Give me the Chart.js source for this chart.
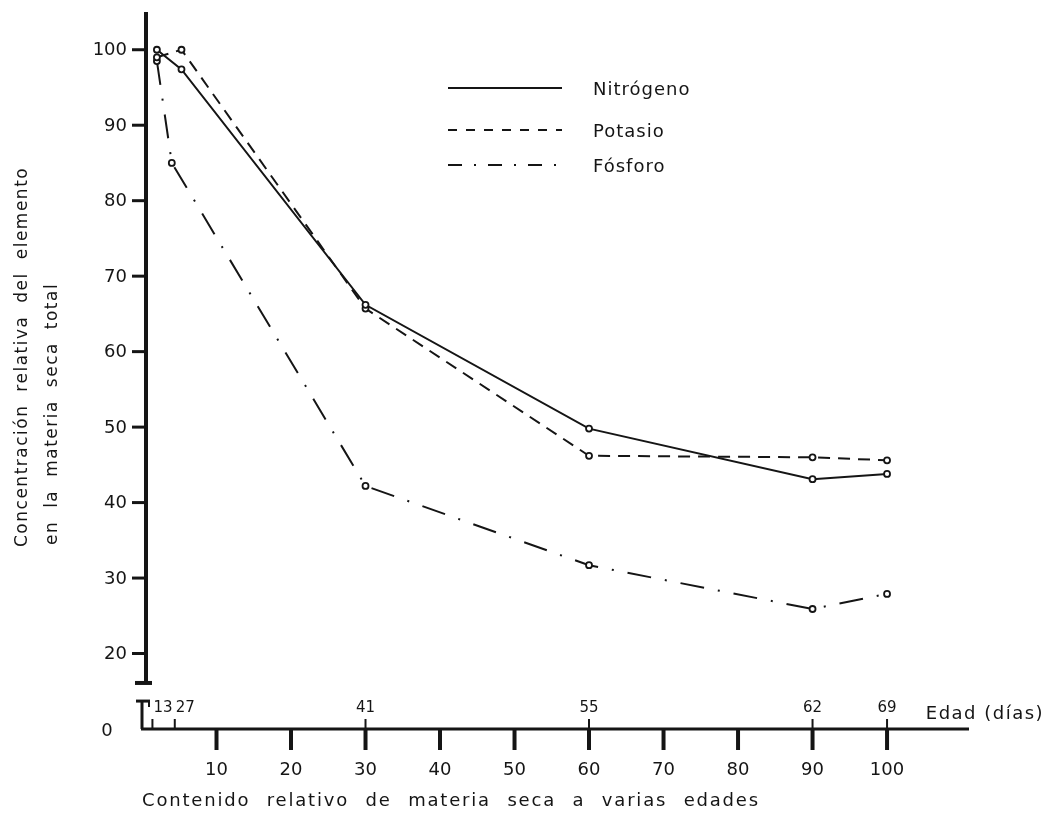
<!DOCTYPE html>
<html>
<head>
<meta charset="utf-8">
<script src="https://cdn.jsdelivr.net/npm/chart.js@4/dist/chart.umd.min.js"></script>
<style>
  html, body { margin: 0; padding: 0; background: #fff; }
  #wrap { width: 1053px; height: 824px; }
</style>
</head>
<body>
<div id="wrap"><canvas id="c" width="1053" height="824"></canvas></div>
<script>
// Relative dry-matter content (x) and relative element concentration (y)
const xNitrogeno = [2.0, 5.3, 30, 60, 90, 100];
const nitrogeno  = [100, 97.4, 66.2, 49.8, 43.1, 43.8];
const xPotasio   = [2.0, 5.3, 30, 60, 90, 100];
const potasio    = [99, 100, 65.7, 46.2, 46.0, 45.6];
const xFosforo   = [2.0, 4.0, 30, 60, 90, 100];
const fosforo    = [98.5, 85, 42.2, 31.7, 25.9, 27.9];

// Axis ticks
const xTicks = [10, 20, 30, 40, 50, 60, 70, 80, 90, 100];
const yTicks = [20, 30, 40, 50, 60, 70, 80, 90, 100];
// Plant age (days) marked along the dry-matter axis
const edadPos    = [1.4, 4.4, 30, 60, 90, 100];
const edadLabels = ['13', '27', '41', '55', '62', '69'];

const seriesNames = ['Nitrógeno', 'Potasio', 'Fósforo'];
const INK = '#151515';
const FONT = '"DejaVu Sans", sans-serif';
const dashes = [[], [12, 8], [24, 14, 2, 14]];

function pts(xs, ys) { return xs.map((v, i) => ({ x: v, y: ys[i] })); }

function ds(label, data, dash) {
  return {
    label, data, showLine: true,
    borderColor: INK, borderWidth: 2, borderDash: dash,
    pointRadius: 3, pointBorderWidth: 1.8,
    pointBackgroundColor: '#fff', pointBorderColor: INK,
    tension: 0, clip: false
  };
}

const axesPlugin = {
  id: 'handAxes',
  afterDraw(chart) {
    const { ctx, scales: { x, y } } = chart;
    const line = (a, b, c, d) => { ctx.beginPath(); ctx.moveTo(a, b); ctx.lineTo(c, d); ctx.stroke(); };
    ctx.save();
    ctx.strokeStyle = INK; ctx.fillStyle = INK; ctx.lineCap = 'butt';
    ctx.setLineDash([]);

    const x0 = x.getPixelForValue(0);
    const base = y.getPixelForValue(10);
    const yAxisX = x0 + 4;

    // upper (broken) concentration axis
    const breakY = y.getPixelForValue(16.1);
    ctx.lineWidth = 4;
    line(yAxisX, y.getPixelForValue(105), yAxisX, breakY);
    line(yAxisX - 11, breakY, yAxisX + 6, breakY);

    // y ticks and labels
    ctx.lineWidth = 3;
    ctx.font = '18px ' + FONT;
    ctx.textAlign = 'right'; ctx.textBaseline = 'middle';
    yTicks.forEach(v => {
      const py = y.getPixelForValue(v);
      line(yAxisX - 14, py, yAxisX, py);
      ctx.fillText(String(v), yAxisX - 19, py + 1);
    });
    ctx.textAlign = 'center';
    ctx.fillText('0', x0 - 35, base + 2);

    // lower axis stub after the break
    const stubTop = y.getPixelForValue(13.7);
    ctx.lineWidth = 3;
    line(x0, stubTop, x0, base);
    line(x0 - 6, stubTop, x0 + 8, stubTop);
    ctx.lineWidth = 2;
    line(x0 + 7, stubTop, x0 + 7, stubTop + 6);

    // dry-matter axis
    ctx.lineWidth = 3;
    line(x0 - 1, base, x.getPixelForValue(111), base);
    ctx.lineWidth = 4;
    xTicks.forEach(v => {
      const px = x.getPixelForValue(v);
      line(px, base, px, base + 21);
      ctx.fillText(String(v), px, base + 41);
    });

    // age marks above the axis
    ctx.lineWidth = 2;
    ctx.font = '15px ' + FONT;
    edadPos.forEach((v, i) => {
      const px = x.getPixelForValue(v);
      line(px, base, px, base - 10);
      // the two earliest ages sit close to the origin: write them to the right of their mark
      ctx.textAlign = v < 10 ? 'left' : 'center';
      ctx.fillText(edadLabels[i], v < 10 ? px + 1 : px, base - 21);
    });
    ctx.font = '18px ' + FONT;
    ctx.textAlign = 'left';
    ctx.letterSpacing = '1.5px';
    ctx.fillText('Edad (días)', x.getPixelForValue(105.2), base - 15);

    // axis titles
    ctx.font = '18px ' + FONT;
    ctx.letterSpacing = '1.8px';
    ctx.wordSpacing = '9px';
    ctx.textAlign = 'center';
    ctx.fillText('Contenido relativo de materia seca a varias edades', 451, 801);

    ctx.font = '17px ' + FONT;
    ctx.letterSpacing = '1.5px';
    ctx.wordSpacing = '6px';
    ctx.textAlign = 'left';
    ctx.save();
    ctx.translate(23, 547); ctx.rotate(-Math.PI / 2);
    ctx.fillText('Concentración relativa del elemento', 0, 0);
    ctx.restore();
    ctx.save();
    ctx.translate(53, 545); ctx.rotate(-Math.PI / 2);
    ctx.fillText('en la materia seca total', 0, 0);
    ctx.restore();

    // legend
    ctx.letterSpacing = '1px';
    ctx.wordSpacing = '0px';
    ctx.font = '18px ' + FONT;
    ctx.textAlign = 'left';
    const legY = [88, 130, 165];
    seriesNames.forEach((name, i) => {
      ctx.lineWidth = 2;
      ctx.setLineDash(i === 1 ? [9, 9] : (i === 2 ? [14, 12, 2, 12] : []));
      line(448, legY[i], 562, legY[i]);
      ctx.setLineDash([]);
      ctx.fillText(name, 593, legY[i] + 2);
    });
    ctx.restore();
  }
};

new Chart(document.getElementById('c'), {
  type: 'scatter',
  data: {
    datasets: [
      ds(seriesNames[0], pts(xNitrogeno, nitrogeno), dashes[0]),
      ds(seriesNames[1], pts(xPotasio, potasio), dashes[1]),
      ds(seriesNames[2], pts(xFosforo, fosforo), dashes[2])
    ]
  },
  options: {
    responsive: false,
    animation: false,
    devicePixelRatio: 1,
    layout: { padding: { left: 142, top: 12, right: 84, bottom: 95 } },
    plugins: { legend: { display: false }, tooltip: { enabled: false } },
    scales: {
      x: { type: 'linear', min: 0, max: 111, display: false },
      y: { type: 'linear', min: 10, max: 105, display: false }
    }
  },
  plugins: [axesPlugin]
});
</script>
</body>
</html>
